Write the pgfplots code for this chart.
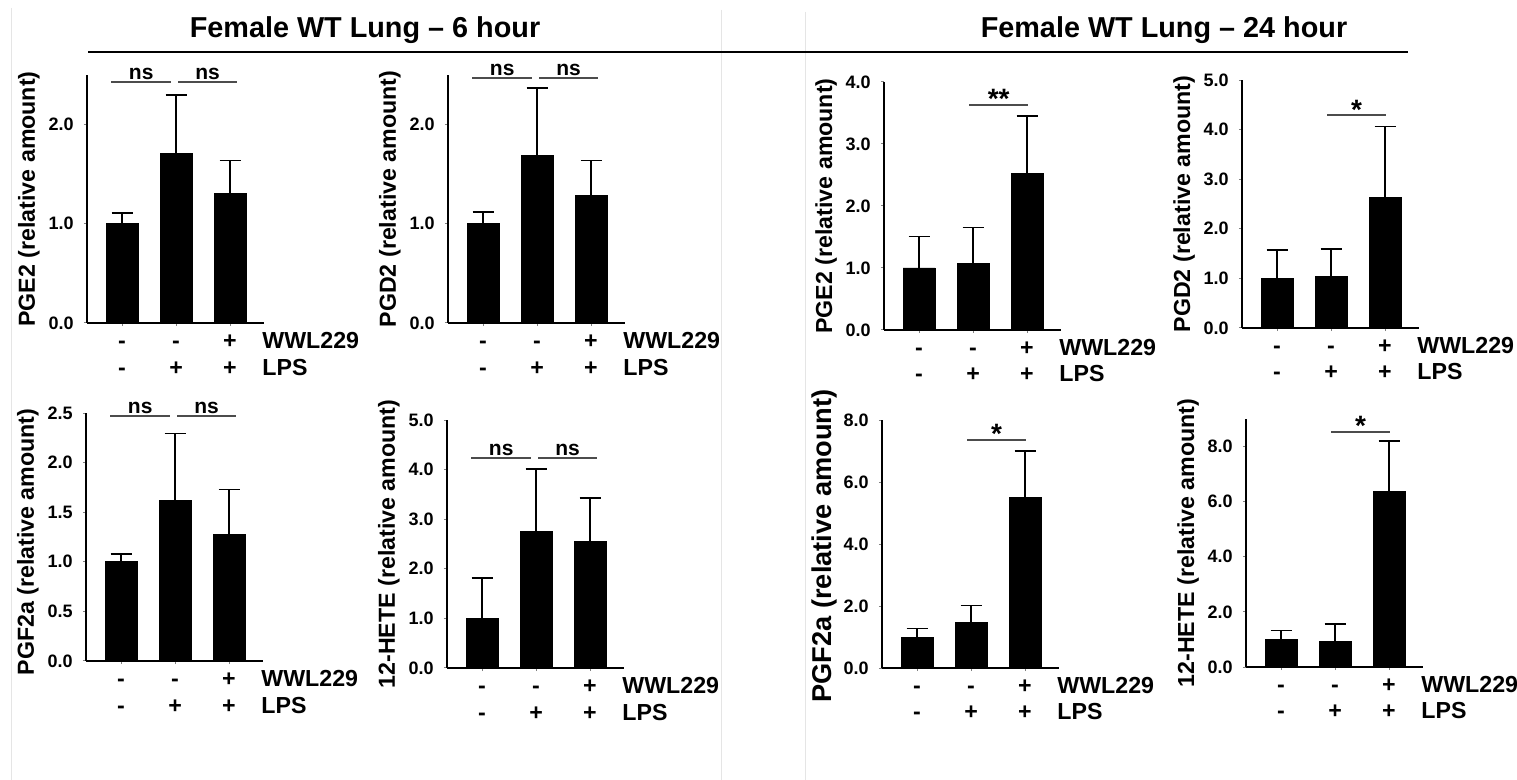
\documentclass[border=0pt]{standalone}
\usepackage{fontspec}
\setmainfont{Liberation Sans}
\usepackage{pgfplots}
\pgfplotsset{compat=1.18}

% one small bar panel; all eight share the same frame
\pgfplotsset{panel/.style={
    scale only axis, width=88.5pt, height=124pt,
    anchor=south west, clip=false,
    axis lines*=left,
    axis line style={line width=1.1pt, black},
    xmin=0.35, xmax=3.63, ymin=0,
    xtick={1,2,3}, xticklabels={,,},
    tick align=outside, major tick length=1.6pt,
    tick style={gray, line width=0.5pt},
    yticklabel style={font=\bfseries\fontsize{9}{10}\selectfont, xshift=-1.5pt},
    /pgf/number format/.cd, fixed, fixed zerofill, precision=1,
        assume math mode=true, /pgfplots/.cd,
    every axis y label/.style={at={(rel axis cs:0,0.5)}, xshift=-29pt,
        rotate=90, anchor=center, font=\bfseries\fontsize{11.6}{13}\selectfont},
    ybar, bar width=16pt, bar shift=0pt,
}}
\pgfplotsset{bars/.style={fill=black, draw=black,
    error bars/.cd, y dir=plus, y explicit,
    error bar style={line width=0.8pt, black},
    error mark options={rotate=90, mark size=5.25pt, line width=0.8pt, black}}}
\tikzset{sig/.style={line width=1pt, black!70},
    sgn/.style={font=\bfseries\fontsize{11.6}{13}\selectfont, inner sep=0pt,
        text height=1.5ex, text depth=0pt, anchor=center}}

% two rows of treatment signs under the bars
\newcommand\signs[2]{%
  \node[sgn] at (axis cs:1,0) [yshift=#1] {-};
  \node[sgn] at (axis cs:2,0) [yshift=#1] {-};
  \node[sgn] at (axis cs:3,0) [yshift=#1] {+};
  \node[sgn, anchor=west] at (rel axis cs:1,0) [xshift=-1pt, yshift=#1] {WWL229};
  \node[sgn] at (axis cs:1,0) [yshift=#2] {-};
  \node[sgn] at (axis cs:2,0) [yshift=#2] {+};
  \node[sgn] at (axis cs:3,0) [yshift=#2] {+};
  \node[sgn, anchor=west] at (rel axis cs:1,0) [xshift=-1pt, yshift=#2] {LPS};
}
\newcommand\ns[1]{%
  \draw[sig] (axis cs:0.8,#1) -- (axis cs:1.91,#1)
    node[midway, above, inner sep=0.5pt, text=black,
      font=\bfseries\fontsize{10.5}{12}\selectfont] {ns};
  \draw[sig] (axis cs:2.04,#1) -- (axis cs:3.13,#1)
    node[midway, above, inner sep=0.5pt, text=black,
      font=\bfseries\fontsize{10.5}{12}\selectfont] {ns};
}
\newcommand\sigstar[2]{%
  \draw[sig] (axis cs:1.93,#1) -- (axis cs:3.02,#1)
    node[midway, anchor=base, yshift=-2pt, inner sep=0pt, text=black,
      font=\bfseries\fontsize{14}{15}\selectfont] {#2};
}

\begin{document}
\begin{tikzpicture}
\useasboundingbox (0,0) rectangle (1517*0.5pt,-780*0.5pt);
\fill[white] (0,0) rectangle (1517*0.5pt,-780*0.5pt);

\begin{scope}[x=0.5pt, y=-0.5pt]
  \draw[black!10] (11,8) -- (11,780);
  \draw[black!10] (721,10) -- (721,780);
  \draw[black!10] (805,12) -- (805,780);
  \node[font=\bfseries\fontsize{14.4}{16}\selectfont] at (365,30) {Female WT Lung -- 6 hour};
  \node[font=\bfseries\fontsize{14.4}{16}\selectfont] at (1164,30) {Female WT Lung -- 24 hour};
  \draw[line width=1.4pt] (88,52) -- (1408,52);
\end{scope}

% ---- 6 hour ----
\begin{axis}[panel, at={(87*0.5pt,-323*0.5pt)}, ymax=2.5, ytick={0,1,2},
    ylabel={PGE2 (relative amount)}]
  \addplot[bars] coordinates {(1,1.00) +- (0,0.11) (2,1.71) +- (0,0.59) (3,1.31) +- (0,0.33)};
  \ns{2.43}
  \signs{-9pt}{-22.5pt}
\end{axis}

\begin{axis}[panel, at={(448*0.5pt,-323*0.5pt)}, ymax=2.5, ytick={0,1,2},
    ylabel={PGD2 (relative amount)}]
  \addplot[bars] coordinates {(1,1.00) +- (0,0.12) (2,1.69) +- (0,0.68) (3,1.29) +- (0,0.35)};
  \ns{2.47}
  \signs{-9pt}{-22.5pt}
\end{axis}

\begin{axis}[panel, at={(86*0.5pt,-661*0.5pt)}, ymax=2.5, ytick={0,0.5,1,1.5,2,2.5},
    ylabel={PGF2a (relative amount)}, ylabel style={xshift=-2.5pt}]
  \addplot[bars] coordinates {(1,1.00) +- (0,0.08) (2,1.615) +- (0,0.68) (3,1.28) +- (0,0.45)};
  \ns{2.47}
  \signs{-9pt}{-22.5pt}
\end{axis}

\begin{axis}[panel, at={(447*0.5pt,-668*0.5pt)}, ymax=5, ytick={0,1,2,3,4,5},
    ylabel={12-HETE (relative amount)}]
  \addplot[bars] coordinates {(1,1.00) +- (0,0.81) (2,2.76) +- (0,1.25) (3,2.55) +- (0,0.88)};
  \ns{4.24}
  \signs{-9pt}{-22.5pt}
\end{axis}

% ---- 24 hour ----
\begin{axis}[panel, at={(884*0.5pt,-330*0.5pt)}, ymax=4, ytick={0,1,2,3,4},
    ylabel={PGE2 (relative amount)}]
  \addplot[bars] coordinates {(1,1.00) +- (0,0.51) (2,1.08) +- (0,0.57) (3,2.53) +- (0,0.92)};
  \sigstar{3.63}{**}
  \signs{-9pt}{-22pt}
\end{axis}

\begin{axis}[panel, at={(1242*0.5pt,-328*0.5pt)}, ymax=5, ytick={0,1,2,3,4,5},
    ylabel={PGD2 (relative amount)}]
  \addplot[bars] coordinates {(1,1.00) +- (0,0.57) (2,1.04) +- (0,0.55) (3,2.63) +- (0,1.43)};
  \sigstar{4.29}{*}
  \signs{-9pt}{-22pt}
\end{axis}

\begin{axis}[panel, at={(882*0.5pt,-668*0.5pt)}, ymax=8, ytick={0,2,4,6,8},
    ylabel={PGF2a (relative amount)},
    ylabel style={xshift=-1pt, font=\bfseries\fontsize{13.6}{15}\selectfont}]
  \addplot[bars] coordinates {(1,1.00) +- (0,0.28) (2,1.46) +- (0,0.55) (3,5.49) +- (0,1.51)};
  \sigstar{7.36}{*}
  \signs{-9pt}{-22pt}
\end{axis}

\begin{axis}[panel, at={(1246*0.5pt,-667*0.5pt)}, ymax=9, ytick={0,2,4,6,8},
    ylabel={12-HETE (relative amount)}]
  \addplot[bars] coordinates {(1,1.00) +- (0,0.33) (2,0.92) +- (0,0.65) (3,6.38) +- (0,1.82)};
  \sigstar{8.53}{*}
  \signs{-9pt}{-22pt}
\end{axis}
\end{tikzpicture}
\end{document}
